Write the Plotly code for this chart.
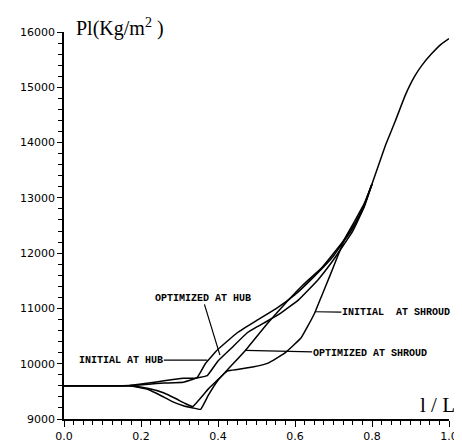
import plotly.graph_objects as go

# ---- data ----
ih_x = [0.0, 0.10, 0.17, 0.22, 0.26, 0.31, 0.345, 0.367, 0.40, 0.45, 0.50, 0.55, 0.60, 0.65, 0.70, 0.75, 0.78, 0.80]
ih_y = [9600, 9600, 9605, 9650, 9690, 9735, 9745, 10000, 10260, 10560, 10780, 10990, 11250, 11580, 11950, 12450, 12870, 13250]

oh_x = [0.0, 0.10, 0.17, 0.22, 0.26, 0.31, 0.345, 0.372, 0.40, 0.436, 0.476, 0.52, 0.56, 0.61, 0.66, 0.70, 0.75, 0.78, 0.80]
oh_y = [9600, 9600, 9605, 9630, 9650, 9665, 9740, 9785, 10050, 10290, 10560, 10740, 10900, 11160, 11520, 11880, 12400, 12840, 13250]

is_x = [0.0, 0.10, 0.17, 0.22, 0.26, 0.29, 0.315, 0.334, 0.375, 0.425, 0.45, 0.49, 0.53, 0.573, 0.616, 0.65, 0.67, 0.69, 0.71, 0.73, 0.755, 0.78, 0.80]
is_y = [9600, 9600, 9600, 9550, 9470, 9370, 9280, 9225, 9545, 9870, 9895, 9940, 10010, 10190, 10470, 10900, 11240, 11580, 11930, 12270, 12580, 12900, 13250]

os_x = [0.0, 0.10, 0.17, 0.22, 0.25, 0.28, 0.31, 0.335, 0.355, 0.375, 0.40, 0.43, 0.47, 0.53, 0.58, 0.62, 0.67, 0.72, 0.76, 0.78, 0.80]
os_y = [9600, 9600, 9600, 9530, 9430, 9320, 9240, 9200, 9175, 9430, 9700, 9930, 10230, 10740, 11130, 11420, 11740, 12170, 12580, 12860, 13250]

common_x = [0.80, 0.835, 0.86, 0.886, 0.911, 0.93, 0.954, 0.98, 1.0]
common_y = [13250, 13950, 14380, 14850, 15200, 15400, 15600, 15780, 15880]

x_ticks = [0.0, 0.2, 0.4, 0.6, 0.8, 1.0]
x_tick_labels = ["0.0", "0.2", "0.4", "0.6", "0.8", "1.0"]
y_ticks = [9000, 10000, 11000, 12000, 13000, 14000, 15000, 16000]
y_tick_labels = ["9000", "10000", "11000", "12000", "13000", "14000", "15000", "16000"]

labels = ["INITIAL AT HUB", "OPTIMIZED AT HUB", "OPTIMIZED AT SHROUD", "INITIAL  AT SHROUD"]
label_point_x = [0.372, 0.405, 0.471, 0.652]
label_point_y = [10066, 10154, 10241, 10940]
label_text_x = [0.149, 0.360, 0.794, 0.862]
label_text_y = [10066, 11183, 10189, 10920]

fig = go.Figure()
line = dict(color="black", width=1.5, shape="spline", smoothing=0.3)
for xs, ys in [(ih_x, ih_y), (oh_x, oh_y), (is_x, is_y), (os_x, os_y), (common_x, common_y)]:
    fig.add_trace(go.Scatter(x=xs, y=ys, mode="lines", line=line, showlegend=False, hoverinfo="skip"))

for t, px, py, tx, ty in zip(labels, label_point_x, label_point_y, label_text_x, label_text_y):
    fig.add_annotation(x=px, y=py, ax=tx, ay=ty, axref="x", ayref="y", xref="x", yref="y",
                       text="<b>" + t.replace(" ", "&nbsp;") + "</b>", showarrow=True, arrowhead=0,
                       arrowwidth=1.2, arrowcolor="black", standoff=0, startstandoff=0, borderpad=0,
                       font=dict(family="Liberation Mono", size=10, color="black"))

fig.add_annotation(xref="paper", yref="paper", x=0.145, y=1.012, xanchor="center", yanchor="middle",
                   text="Pl(Kg/m<sup>2</sup> )", showarrow=False,
                   font=dict(family="Liberation Serif", size=20, color="black"))
fig.add_annotation(xref="paper", yref="paper", x=0.969, y=0.035, xanchor="center", yanchor="middle",
                   text="l / L", showarrow=False,
                   font=dict(family="Liberation Serif", size=21, color="black"))

fig.update_xaxes(range=[0, 1.0], tickvals=x_ticks, ticktext=x_tick_labels, ticks="outside", ticklen=6,
                 tickwidth=1.2, tickcolor="black", showline=True, linecolor="black", linewidth=1.5,
                 showgrid=False, zeroline=False,
                 minor=dict(dtick=0.025, ticks="outside", ticklen=4, tickcolor="black", tickwidth=1.2, showgrid=False),
                 tickfont=dict(family="DejaVu Sans", size=11, color="black"))
fig.update_yaxes(range=[9000, 16000], tickvals=y_ticks, ticktext=y_tick_labels, ticks="outside", ticklen=5,
                 tickwidth=1.2, tickcolor="black", showline=True, linecolor="black", linewidth=1.5,
                 showgrid=False, zeroline=False,
                 minor=dict(dtick=200, ticks="outside", ticklen=4, tickcolor="black", tickwidth=1.2, showgrid=False),
                 tickfont=dict(family="DejaVu Sans", size=11, color="black"))
fig.update_layout(width=462, height=447, margin=dict(l=56, r=13, t=24, b=22),
                  paper_bgcolor="white", plot_bgcolor="white")
fig.write_html("out.html")
